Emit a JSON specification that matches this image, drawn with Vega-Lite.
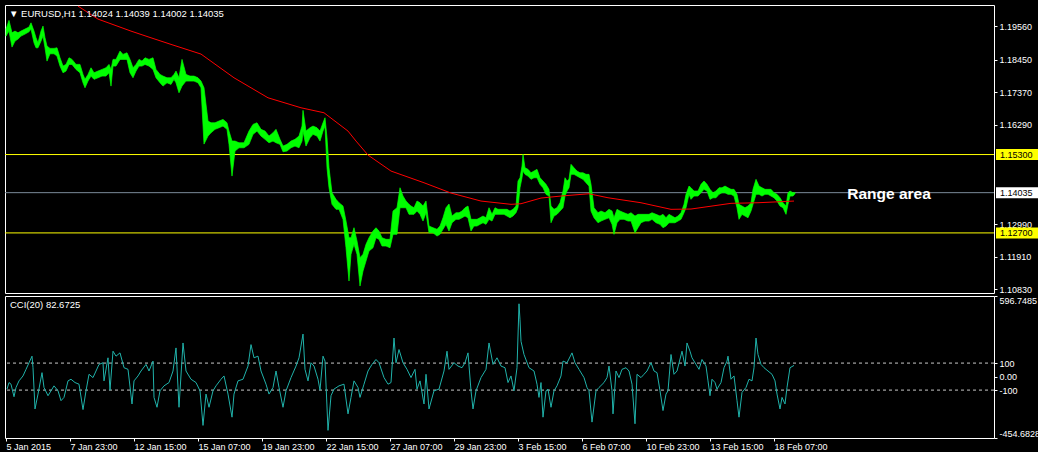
{
  "$schema": "https://vega.github.io/schema/vega-lite/v6.json",
  "background": "black",
  "padding": {"left": 4, "top": 4, "right": 0, "bottom": 0},
  "autosize": {"type": "pad"},
  "bounds": "flush",
  "spacing": 3,
  "config": {
    "view": {"stroke": "white", "strokeWidth": 1},
    "axis": {"labelColor": "white", "tickColor": "white", "domain": false, "grid": false, "labelFont": "Liberation Sans", "labelFontSize": 9, "tickSize": 3, "labelPadding": 2, "labelOverlap": false}
  },
  "datasets": {
    "price": [
      {"b":1,"h":1.19461,"l":1.19228},{"b":4,"h":1.19749,"l":1.19394},{"b":7,"h":1.19338,"l":1.18864},{"b":10,"h":1.19394,"l":1.19063},{"b":13,"h":1.19338,"l":1.19129},{"b":16,"h":1.19394,"l":1.19228},{"b":20,"h":1.19461,"l":1.19295},{"b":24,"h":1.19527,"l":1.19371},{"b":26,"h":1.19669,"l":1.19461},{"b":29,"h":1.19394,"l":1.19006},{"b":31,"h":1.19172,"l":1.1884},{"b":33,"h":1.19006,"l":1.1884},{"b":36,"h":1.19394,"l":1.19063},{"b":38,"h":1.1956,"l":1.19228},{"b":40,"h":1.19172,"l":1.1884},{"b":42,"h":1.18897,"l":1.18399},{"b":45,"h":1.18821,"l":1.18642},{"b":49,"h":1.18821,"l":1.18642},{"b":52,"h":1.1884,"l":1.18565},{"b":55,"h":1.18509,"l":1.18234},{"b":58,"h":1.18234,"l":1.18011},{"b":61,"h":1.1829,"l":1.18068},{"b":64,"h":1.18509,"l":1.1829},{"b":67,"h":1.18456,"l":1.1829},{"b":71,"h":1.1829,"l":1.18124},{"b":75,"h":1.1829,"l":1.18011},{"b":78,"h":1.17958,"l":1.1768},{"b":80,"h":1.17793,"l":1.17514},{"b":83,"h":1.17958,"l":1.17736},{"b":86,"h":1.18177,"l":1.17902},{"b":89,"h":1.18011,"l":1.17793},{"b":93,"h":1.18068,"l":1.17846},{"b":97,"h":1.18124,"l":1.17902},{"b":101,"h":1.18177,"l":1.17902},{"b":104,"h":1.1829,"l":1.18011},{"b":106,"h":1.18124,"l":1.1757},{"b":108,"h":1.18456,"l":1.18234},{"b":111,"h":1.18456,"l":1.18234},{"b":115,"h":1.18731,"l":1.18456},{"b":118,"h":1.18622,"l":1.18456},{"b":122,"h":1.18675,"l":1.18456},{"b":125,"h":1.18456,"l":1.18011},{"b":128,"h":1.18177,"l":1.17846},{"b":131,"h":1.1829,"l":1.18068},{"b":134,"h":1.18456,"l":1.18234},{"b":137,"h":1.18399,"l":1.18234},{"b":140,"h":1.18509,"l":1.1829},{"b":144,"h":1.18456,"l":1.18234},{"b":148,"h":1.18509,"l":1.18124},{"b":151,"h":1.18124,"l":1.17846},{"b":155,"h":1.17958,"l":1.1768},{"b":158,"h":1.17902,"l":1.1757},{"b":162,"h":1.17846,"l":1.1768},{"b":166,"h":1.17846,"l":1.17627},{"b":169,"h":1.17958,"l":1.17793},{"b":171,"h":1.18068,"l":1.1768},{"b":174,"h":1.17846,"l":1.17348},{"b":177,"h":1.18456,"l":1.1757},{"b":181,"h":1.17958,"l":1.17736},{"b":185,"h":1.17902,"l":1.17736},{"b":189,"h":1.17902,"l":1.17736},{"b":193,"h":1.17846,"l":1.1768},{"b":196,"h":1.17736,"l":1.17514},{"b":199,"h":1.17514,"l":1.15647},{"b":203,"h":1.1641,"l":1.15912},{"b":206,"h":1.16353,"l":1.16022},{"b":210,"h":1.16353,"l":1.16135},{"b":214,"h":1.1641,"l":1.16188},{"b":218,"h":1.16466,"l":1.16244},{"b":222,"h":1.16353,"l":1.16135},{"b":224,"h":1.16078,"l":1.15637},{"b":227,"h":1.15747,"l":1.14586},{"b":230,"h":1.15747,"l":1.15415},{"b":234,"h":1.1569,"l":1.15524},{"b":239,"h":1.1569,"l":1.15524},{"b":244,"h":1.16078,"l":1.15637},{"b":248,"h":1.163,"l":1.15969},{"b":252,"h":1.16353,"l":1.16078},{"b":256,"h":1.16135,"l":1.15912},{"b":260,"h":1.16078,"l":1.15803},{"b":264,"h":1.15912,"l":1.1569},{"b":268,"h":1.16022,"l":1.15747},{"b":271,"h":1.16135,"l":1.1569},{"b":275,"h":1.15803,"l":1.15637},{"b":278,"h":1.15581,"l":1.15392},{"b":282,"h":1.15637,"l":1.15415},{"b":286,"h":1.15747,"l":1.15524},{"b":290,"h":1.15803,"l":1.15581},{"b":294,"h":1.15912,"l":1.15524},{"b":297,"h":1.16244,"l":1.15747},{"b":298,"h":1.16765,"l":1.16078},{"b":301,"h":1.16078,"l":1.15581},{"b":305,"h":1.16188,"l":1.15856},{"b":308,"h":1.16244,"l":1.15969},{"b":312,"h":1.16188,"l":1.15912},{"b":315,"h":1.16078,"l":1.15747},{"b":318,"h":1.16353,"l":1.16078},{"b":320,"h":1.16519,"l":1.16244},{"b":322,"h":1.15856,"l":1.14861},{"b":324,"h":1.14861,"l":1.14198},{"b":327,"h":1.14032,"l":1.13648},{"b":331,"h":1.13813,"l":1.13482},{"b":334,"h":1.13701,"l":1.13482},{"b":338,"h":1.13591,"l":1.1315},{"b":341,"h":1.13094,"l":1.12208},{"b":344,"h":1.1254,"l":1.11104},{"b":346,"h":1.1254,"l":1.1199},{"b":349,"h":1.12872,"l":1.12321},{"b":352,"h":1.12431,"l":1.1199},{"b":355,"h":1.11877,"l":1.10938},{"b":358,"h":1.1199,"l":1.11436},{"b":361,"h":1.12321,"l":1.11767},{"b":364,"h":1.1254,"l":1.12099},{"b":368,"h":1.12762,"l":1.12208},{"b":371,"h":1.12872,"l":1.1254},{"b":374,"h":1.12762,"l":1.12487},{"b":377,"h":1.1254,"l":1.12265},{"b":381,"h":1.12487,"l":1.12265},{"b":385,"h":1.12487,"l":1.12208},{"b":388,"h":1.13425,"l":1.12653},{"b":392,"h":1.13535,"l":1.12653},{"b":395,"h":1.14198,"l":1.13535},{"b":398,"h":1.13923,"l":1.13535},{"b":401,"h":1.13757,"l":1.13535},{"b":404,"h":1.13648,"l":1.13316},{"b":406,"h":1.13591,"l":1.13316},{"b":409,"h":1.13535,"l":1.13316},{"b":412,"h":1.13757,"l":1.13425},{"b":415,"h":1.13701,"l":1.13316},{"b":418,"h":1.13591,"l":1.13094},{"b":421,"h":1.13757,"l":1.13369},{"b":424,"h":1.12928,"l":1.12706},{"b":428,"h":1.12872,"l":1.12706},{"b":432,"h":1.12819,"l":1.12596},{"b":435,"h":1.12928,"l":1.12653},{"b":438,"h":1.13203,"l":1.12819},{"b":441,"h":1.13535,"l":1.12984},{"b":444,"h":1.13658,"l":1.12762},{"b":447,"h":1.1326,"l":1.13037},{"b":451,"h":1.13369,"l":1.1315},{"b":454,"h":1.13369,"l":1.1315},{"b":457,"h":1.13425,"l":1.13203},{"b":460,"h":1.13535,"l":1.1326},{"b":463,"h":1.13591,"l":1.13203},{"b":466,"h":1.1315,"l":1.12762},{"b":469,"h":1.1315,"l":1.12928},{"b":472,"h":1.1315,"l":1.12928},{"b":475,"h":1.13203,"l":1.12984},{"b":478,"h":1.1326,"l":1.13037},{"b":481,"h":1.13203,"l":1.12984},{"b":484,"h":1.13535,"l":1.1315},{"b":487,"h":1.13316,"l":1.13094},{"b":490,"h":1.13535,"l":1.13316},{"b":493,"h":1.13482,"l":1.13316},{"b":496,"h":1.13482,"l":1.13316},{"b":499,"h":1.13482,"l":1.13316},{"b":502,"h":1.13482,"l":1.1326},{"b":505,"h":1.13425,"l":1.13203},{"b":508,"h":1.13482,"l":1.1326},{"b":511,"h":1.13591,"l":1.13369},{"b":513,"h":1.1442,"l":1.13535},{"b":515,"h":1.1453,"l":1.14198},{"b":517,"h":1.14918,"l":1.1453},{"b":518,"h":1.15306,"l":1.14752},{"b":520,"h":1.14861,"l":1.14642},{"b":523,"h":1.14808,"l":1.14586},{"b":526,"h":1.14695,"l":1.14477},{"b":529,"h":1.14752,"l":1.1453},{"b":532,"h":1.14808,"l":1.1453},{"b":535,"h":1.1453,"l":1.14311},{"b":538,"h":1.1442,"l":1.14198},{"b":541,"h":1.14311,"l":1.13979},{"b":544,"h":1.14145,"l":1.13923},{"b":546,"h":1.13591,"l":1.13037},{"b":549,"h":1.13482,"l":1.1326},{"b":552,"h":1.13535,"l":1.13316},{"b":555,"h":1.13701,"l":1.13425},{"b":558,"h":1.14089,"l":1.13535},{"b":560,"h":1.1453,"l":1.13923},{"b":562,"h":1.1442,"l":1.14089},{"b":564,"h":1.14477,"l":1.14198},{"b":566,"h":1.14974,"l":1.14642},{"b":569,"h":1.14861,"l":1.14642},{"b":572,"h":1.14752,"l":1.14586},{"b":575,"h":1.14695,"l":1.1453},{"b":578,"h":1.14695,"l":1.14477},{"b":581,"h":1.14642,"l":1.14364},{"b":584,"h":1.14642,"l":1.14254},{"b":586,"h":1.14311,"l":1.13425},{"b":589,"h":1.13535,"l":1.13203},{"b":593,"h":1.13369,"l":1.13037},{"b":596,"h":1.13425,"l":1.13094},{"b":600,"h":1.13369,"l":1.1315},{"b":604,"h":1.13482,"l":1.13203},{"b":607,"h":1.13425,"l":1.12984},{"b":609,"h":1.13203,"l":1.12653},{"b":612,"h":1.13482,"l":1.13037},{"b":615,"h":1.13425,"l":1.1315},{"b":619,"h":1.13369,"l":1.1315},{"b":623,"h":1.13316,"l":1.13094},{"b":626,"h":1.13369,"l":1.13094},{"b":630,"h":1.1326,"l":1.12706},{"b":633,"h":1.13316,"l":1.12872},{"b":636,"h":1.13316,"l":1.13037},{"b":640,"h":1.13316,"l":1.13094},{"b":644,"h":1.13316,"l":1.13094},{"b":647,"h":1.13369,"l":1.1315},{"b":651,"h":1.13316,"l":1.13037},{"b":655,"h":1.1326,"l":1.12984},{"b":658,"h":1.13316,"l":1.12872},{"b":661,"h":1.13203,"l":1.12928},{"b":664,"h":1.13316,"l":1.13037},{"b":667,"h":1.1326,"l":1.13037},{"b":670,"h":1.13203,"l":1.13037},{"b":673,"h":1.1326,"l":1.13094},{"b":676,"h":1.13369,"l":1.1315},{"b":679,"h":1.13648,"l":1.13369},{"b":681,"h":1.13979,"l":1.13535},{"b":684,"h":1.14254,"l":1.13979},{"b":686,"h":1.14198,"l":1.13813},{"b":689,"h":1.14089,"l":1.13923},{"b":693,"h":1.14089,"l":1.13923},{"b":696,"h":1.14311,"l":1.14032},{"b":699,"h":1.1442,"l":1.14145},{"b":702,"h":1.14311,"l":1.14089},{"b":705,"h":1.14145,"l":1.13813},{"b":708,"h":1.14032,"l":1.13866},{"b":711,"h":1.14089,"l":1.13866},{"b":714,"h":1.14198,"l":1.13979},{"b":717,"h":1.14198,"l":1.14032},{"b":720,"h":1.14254,"l":1.14032},{"b":723,"h":1.14198,"l":1.13979},{"b":726,"h":1.14145,"l":1.13979},{"b":729,"h":1.14145,"l":1.13923},{"b":732,"h":1.13979,"l":1.13535},{"b":734,"h":1.13648,"l":1.1315},{"b":737,"h":1.13591,"l":1.13316},{"b":740,"h":1.13535,"l":1.1326},{"b":743,"h":1.13591,"l":1.13203},{"b":746,"h":1.13701,"l":1.13425},{"b":748,"h":1.14145,"l":1.13648},{"b":751,"h":1.14477,"l":1.13979},{"b":754,"h":1.14254,"l":1.13979},{"b":757,"h":1.14198,"l":1.13923},{"b":760,"h":1.14145,"l":1.13979},{"b":763,"h":1.14145,"l":1.13979},{"b":766,"h":1.14145,"l":1.13923},{"b":769,"h":1.14032,"l":1.13866},{"b":772,"h":1.13979,"l":1.13757},{"b":775,"h":1.13866,"l":1.13591},{"b":778,"h":1.13701,"l":1.13535},{"b":781,"h":1.13591,"l":1.13316},{"b":783,"h":1.14032,"l":1.13648},{"b":785,"h":1.14089,"l":1.13923},{"b":788,"h":1.14032,"l":1.13923},{"b":790,"h":1.14039,"l":1.14002}
    ],
    "ma": [
      {"b":73,"v":1.20223},{"b":93,"v":1.19792},{"b":126,"v":1.19394},{"b":146,"v":1.19172},{"b":166,"v":1.18953},{"b":196,"v":1.18632},{"b":229,"v":1.17846},{"b":263,"v":1.17182},{"b":296,"v":1.16851},{"b":319,"v":1.16685},{"b":343,"v":1.16078},{"b":351,"v":1.15747},{"b":363,"v":1.15282},{"b":386,"v":1.14752},{"b":419,"v":1.14364},{"b":446,"v":1.14022},{"b":476,"v":1.13757},{"b":506,"v":1.13648},{"b":516,"v":1.13668},{"b":536,"v":1.13857},{"b":556,"v":1.13923},{"b":584,"v":1.13999},{"b":603,"v":1.13866},{"b":636,"v":1.13701},{"b":666,"v":1.13482},{"b":686,"v":1.13492},{"b":726,"v":1.13681},{"b":753,"v":1.13701},{"b":789,"v":1.13757}
    ],
    "cci": [
      {"b":2,"v":-92.9},{"b":4,"v":-44.1},{"b":6,"v":-56.3},{"b":9,"v":-149.1},{"b":11,"v":-80.7},{"b":14,"v":-31.8},{"b":18,"v":4.8},{"b":21,"v":53.6},{"b":24,"v":102.5},{"b":27,"v":151.3},{"b":28,"v":65.8},{"b":30,"v":-239.4},{"b":33,"v":-129.5},{"b":37,"v":29.2},{"b":39,"v":-80.7},{"b":43,"v":-141.7},{"b":46,"v":-105.1},{"b":49,"v":-68.5},{"b":53,"v":-105.1},{"b":56,"v":-178.4},{"b":59,"v":-154},{"b":63,"v":-31.8},{"b":66,"v":-19.6},{"b":70,"v":-44.1},{"b":74,"v":-56.3},{"b":78,"v":-244.3},{"b":81,"v":-105.1},{"b":84,"v":17},{"b":88,"v":-7.4},{"b":91,"v":41.4},{"b":94,"v":90.3},{"b":98,"v":102.5},{"b":99,"v":-31.8},{"b":103,"v":139.1},{"b":105,"v":-100.2},{"b":108,"v":187.9},{"b":111,"v":151.3},{"b":115,"v":175.7},{"b":119,"v":65.8},{"b":123,"v":53.6},{"b":127,"v":-202.8},{"b":129,"v":-31.8},{"b":133,"v":4.8},{"b":136,"v":41.4},{"b":141,"v":90.3},{"b":144,"v":41.4},{"b":148,"v":114.7},{"b":149,"v":-154},{"b":152,"v":-227.2},{"b":155,"v":-105.1},{"b":159,"v":-68.5},{"b":164,"v":-44.1},{"b":168,"v":41.4},{"b":171,"v":212.4},{"b":174,"v":-227.2},{"b":178,"v":249},{"b":181,"v":41.4},{"b":186,"v":-19.6},{"b":191,"v":-44.1},{"b":195,"v":-105.1},{"b":198,"v":-361.5},{"b":201,"v":-129.5},{"b":204,"v":-227.2},{"b":208,"v":-105.1},{"b":211,"v":-68.5},{"b":216,"v":-19.6},{"b":219,"v":4.8},{"b":223,"v":-129.5},{"b":227,"v":-300.5},{"b":229,"v":-129.5},{"b":233,"v":-31.8},{"b":238,"v":-19.6},{"b":243,"v":78},{"b":246,"v":236.8},{"b":249,"v":139.1},{"b":253,"v":151.3},{"b":256,"v":41.4},{"b":261,"v":-56.3},{"b":264,"v":-129.5},{"b":268,"v":-80.7},{"b":271,"v":41.4},{"b":274,"v":-80.7},{"b":278,"v":-227.2},{"b":281,"v":-105.1},{"b":286,"v":-7.4},{"b":291,"v":78},{"b":294,"v":139.1},{"b":298,"v":314.9},{"b":300,"v":53.6},{"b":303,"v":-31.8},{"b":306,"v":102.5},{"b":309,"v":78},{"b":313,"v":-19.6},{"b":315,"v":-100.2},{"b":318,"v":151.3},{"b":320,"v":114.7},{"b":323,"v":-398.1},{"b":326,"v":-141.7},{"b":329,"v":-92.9},{"b":334,"v":-68.5},{"b":339,"v":-56.3},{"b":343,"v":-276},{"b":346,"v":-154},{"b":349,"v":-31.8},{"b":353,"v":-80.7},{"b":355,"v":-154},{"b":359,"v":-56.3},{"b":363,"v":41.4},{"b":367,"v":90.3},{"b":371,"v":126.9},{"b":374,"v":102.5},{"b":379,"v":-7.4},{"b":383,"v":-56.3},{"b":386,"v":-44.1},{"b":389,"v":285.6},{"b":391,"v":102.5},{"b":394,"v":200.2},{"b":398,"v":102.5},{"b":402,"v":53.6},{"b":406,"v":-7.4},{"b":410,"v":53.6},{"b":412,"v":-92.9},{"b":415,"v":-31.8},{"b":419,"v":-202.8},{"b":421,"v":17},{"b":424,"v":-239.4},{"b":429,"v":-105.1},{"b":434,"v":-92.9},{"b":439,"v":41.4},{"b":442,"v":187.9},{"b":444,"v":53.6},{"b":449,"v":102.5},{"b":453,"v":78},{"b":457,"v":65.8},{"b":460,"v":102.5},{"b":463,"v":175.7},{"b":466,"v":-105.1},{"b":468,"v":-239.4},{"b":471,"v":-105.1},{"b":476,"v":-7.4},{"b":481,"v":53.6},{"b":484,"v":249},{"b":488,"v":90.3},{"b":492,"v":139.1},{"b":496,"v":78},{"b":500,"v":65.8},{"b":503,"v":-44.1},{"b":506,"v":4.8},{"b":509,"v":-105.1},{"b":512,"v":65.8},{"b":514,"v":539},{"b":515,"v":419.9},{"b":516,"v":261.2},{"b":519,"v":163.5},{"b":524,"v":65.8},{"b":529,"v":41.4},{"b":532,"v":-56.3},{"b":534,"v":-154},{"b":536,"v":-44.1},{"b":538,"v":-300.5},{"b":541,"v":-105.1},{"b":543,"v":-92.9},{"b":546,"v":-227.2},{"b":549,"v":-105.1},{"b":552,"v":-68.5},{"b":556,"v":4.8},{"b":558,"v":114.7},{"b":562,"v":102.5},{"b":567,"v":175.7},{"b":570,"v":102.5},{"b":574,"v":53.6},{"b":579,"v":-7.4},{"b":582,"v":-80.7},{"b":584,"v":-105.1},{"b":587,"v":-337.1},{"b":591,"v":-105.1},{"b":594,"v":-80.7},{"b":599,"v":-44.1},{"b":602,"v":-7.4},{"b":604,"v":78},{"b":607,"v":-105.1},{"b":608,"v":-276},{"b":611,"v":41.4},{"b":614,"v":-7.4},{"b":617,"v":53.6},{"b":621,"v":65.8},{"b":624,"v":41.4},{"b":627,"v":-56.3},{"b":630,"v":-349.3},{"b":632,"v":17},{"b":636,"v":-7.4},{"b":639,"v":17},{"b":642,"v":41.4},{"b":646,"v":102.5},{"b":649,"v":41.4},{"b":652,"v":29.2},{"b":655,"v":-105.1},{"b":657,"v":-202.8},{"b":658,"v":-251.6},{"b":661,"v":-129.5},{"b":663,"v":-105.1},{"b":666,"v":163.5},{"b":669,"v":17},{"b":672,"v":41.4},{"b":677,"v":187.9},{"b":680,"v":78},{"b":682,"v":249},{"b":685,"v":187.9},{"b":687,"v":139.1},{"b":691,"v":90.3},{"b":694,"v":53.6},{"b":697,"v":126.9},{"b":701,"v":78},{"b":703,"v":-31.8},{"b":705,"v":-141.7},{"b":707,"v":-19.6},{"b":710,"v":-44.1},{"b":712,"v":-92.9},{"b":716,"v":-44.1},{"b":719,"v":65.8},{"b":722,"v":114.7},{"b":723,"v":151.3},{"b":726,"v":-19.6},{"b":729,"v":4.8},{"b":732,"v":-178.4},{"b":734,"v":-300.5},{"b":737,"v":-117.3},{"b":741,"v":-80.7},{"b":744,"v":-19.6},{"b":747,"v":-31.8},{"b":749,"v":65.8},{"b":751,"v":285.6},{"b":753,"v":163.5},{"b":756,"v":90.3},{"b":759,"v":65.8},{"b":763,"v":41.4},{"b":767,"v":17},{"b":770,"v":-31.8},{"b":772,"v":-129.5},{"b":775,"v":-239.4},{"b":777,"v":-154},{"b":780,"v":-202.8},{"b":782,"v":-80.7},{"b":785,"v":65.8},{"b":789,"v":82.7}
    ],
    "levels": [
      {"p":1.153,"label":"1.15300","kind":"level"},
      {"p":1.14035,"label":"1.14035","kind":"bid"},
      {"p":1.127,"label":"1.12700","kind":"level"}
    ],
    "notes": [
      {"b":884,"p":1.13979,"label":"Range area"}
    ],
    "headers": [
      {"b":4,"p":1.19978,"label":"▼ EURUSD,H1  1.14024 1.14039 1.14002 1.14035"}
    ],
    "cciHeaders": [
      {"b":5,"v":530,"label":"CCI(20) 82.6725"}
    ],
    "cciLevels": [{"v":100},{"v":-100}]
  },
  "vconcat": [
    {
      "width": 989,
      "height": 288,
      "layer": [
        {
          "data": {"name": "levels"},
          "mark": {"type": "rule", "strokeWidth": 1},
          "encoding": {
            "y": {"field": "p", "type": "quantitative", "scale": {"domain": [1.10707, 1.2026], "nice": false, "zero": false},
                  "axis": {"orient": "right", "title": null, "values": [1.1956, 1.1845, 1.1737, 1.1629, 1.1299, 1.1191, 1.1083], "tickCount": 20, "format": ".5f", "labelOverlap": false, "labelFlush": false}},
            "color": {"field": "kind", "type": "nominal", "scale": {"domain": ["level", "bid"], "range": ["#ffff00", "#7b8a99"]}, "legend": null}
          }
        },
        {
          "data": {"name": "price"},
          "mark": {"type": "area", "color": "#00ff00", "stroke": "#00ff00", "strokeWidth": 0.7},
          "encoding": {
            "x": {"field": "b", "type": "quantitative", "scale": {"domain": [0, 989], "nice": false, "zero": false}, "axis": null},
            "y": {"field": "l", "type": "quantitative"},
            "y2": {"field": "h"}
          }
        },
        {
          "data": {"name": "ma"},
          "mark": {"type": "line", "color": "#ff0000", "strokeWidth": 1, "clip": true},
          "encoding": {
            "x": {"field": "b", "type": "quantitative", "axis": null},
            "y": {"field": "v", "type": "quantitative"}
          }
        },
        {
          "data": {"name": "levels"},
          "mark": {"type": "rule", "strokeWidth": 11, "strokeCap": "butt"},
          "encoding": {
            "x": {"datum": 991, "type": "quantitative", "axis": null},
            "x2": {"datum": 1034},
            "y": {"field": "p", "type": "quantitative"},
            "stroke": {"field": "kind", "type": "nominal", "scale": {"domain": ["level", "bid"], "range": ["#ffff00", "#ffffff"]}, "legend": null}
          }
        },
        {
          "data": {"name": "levels"},
          "mark": {"type": "text", "align": "left", "baseline": "middle", "color": "black", "font": "Liberation Sans", "fontSize": 9},
          "encoding": {
            "x": {"datum": 995, "type": "quantitative", "axis": null},
            "y": {"field": "p", "type": "quantitative"},
            "text": {"field": "label"}
          }
        },
        {
          "data": {"name": "notes"},
          "mark": {"type": "text", "align": "center", "baseline": "middle", "color": "white", "font": "Liberation Sans", "fontSize": 15.5, "fontWeight": "bold"},
          "encoding": {
            "x": {"field": "b", "type": "quantitative", "axis": null},
            "y": {"field": "p", "type": "quantitative"},
            "text": {"field": "label"}
          }
        },
        {
          "data": {"name": "headers"},
          "mark": {"type": "text", "align": "left", "baseline": "middle", "color": "white", "font": "Liberation Sans", "fontSize": 9.5},
          "encoding": {
            "x": {"field": "b", "type": "quantitative", "axis": null},
            "y": {"field": "p", "type": "quantitative"},
            "text": {"field": "label"}
          }
        }
      ]
    },
    {
      "width": 989,
      "height": 142,
      "layer": [
        {
          "data": {"name": "cciLevels"},
          "mark": {"type": "rule", "color": "#c8c8c8", "strokeWidth": 1, "strokeDash": [3, 3]},
          "encoding": {
            "y": {"field": "v", "type": "quantitative", "scale": {"domain": [-454.6828, 596.7485], "nice": false, "zero": false},
                  "axis": {"orient": "right", "title": null, "values": [596.7485, 100, 0, -100, -454.6828], "tickCount": 20, "labelExpr": "datum.value > 500 ? '596.7485' : datum.value > 50 ? '100' : datum.value > -50 ? '0.00' : datum.value > -200 ? '-100' : '-454.6828'", "labelOverlap": false, "labelFlush": false,
                           "labelBaseline": {"condition": [{"test": "datum.value > 500", "value": "top"}, {"test": "datum.value < -400", "value": "bottom"}], "value": "middle"}}}
          }
        },
        {
          "data": {"name": "cci"},
          "mark": {"type": "line", "color": "#20b2aa", "strokeWidth": 1},
          "encoding": {
            "x": {"field": "b", "type": "quantitative", "scale": {"domain": [0, 989], "nice": false, "zero": false},
                  "axis": {"orient": "bottom", "title": null, "values": [1, 65, 129, 193, 257, 321, 385, 449, 513, 577, 641, 705, 769], "tickCount": 40, "labelExpr": "['5 Jan 2015','7 Jan 23:00','12 Jan 15:00','15 Jan 07:00','19 Jan 23:00','22 Jan 15:00','27 Jan 07:00','29 Jan 23:00','3 Feb 15:00','6 Feb 07:00','10 Feb 23:00','13 Feb 15:00','18 Feb 07:00'][round((datum.value - 1) / 64)]", "labelAlign": "left", "labelOverlap": false, "labelFlush": false, "labelPadding": 1}},
            "y": {"field": "v", "type": "quantitative"}
          }
        },
        {
          "data": {"name": "cciHeaders"},
          "mark": {"type": "text", "align": "left", "baseline": "middle", "color": "white", "font": "Liberation Sans", "fontSize": 9.5},
          "encoding": {
            "x": {"field": "b", "type": "quantitative"},
            "y": {"field": "v", "type": "quantitative"},
            "text": {"field": "label"}
          }
        }
      ]
    }
  ]
}
